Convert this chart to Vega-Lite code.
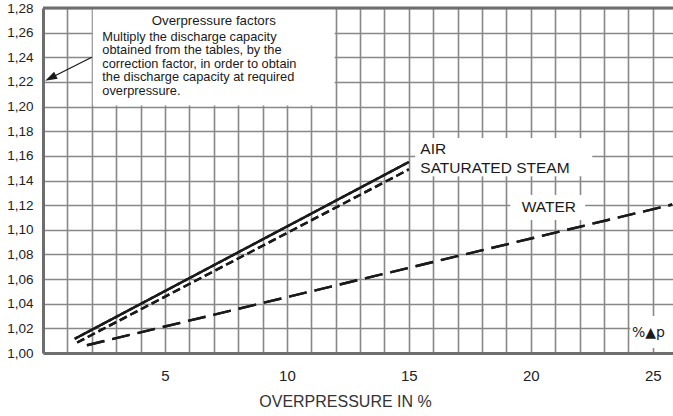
{
  "$schema": "https://vega.github.io/schema/vega-lite/v6.json",
  "width": 630,
  "height": 345,
  "autosize": {"type": "none"},
  "padding": {"left": 43, "top": 8, "right": 0, "bottom": 63},
  "background": "white",
  "config": {"view": {"stroke": null}, "font": "Liberation Sans"},
  "datasets": {
    "lines": [
      {"medium": "AIR", "overpressure": 1.3, "factor": 1.0115},
      {"medium": "AIR", "overpressure": 15, "factor": 1.155},
      {"medium": "SATURATED STEAM", "overpressure": 1.4, "factor": 1.0085},
      {"medium": "SATURATED STEAM", "overpressure": 15, "factor": 1.149},
      {"medium": "WATER", "overpressure": 1.8, "factor": 1.0063},
      {"medium": "WATER", "overpressure": 25.8, "factor": 1.1205}
    ],
    "one": [{}]
  },
  "layer": [
    {
      "data": {"name": "lines"},
      "mark": {"type": "line", "color": "#1a1a1a", "strokeWidth": 2.4},
      "encoding": {
        "x": {
          "field": "overpressure",
          "type": "quantitative",
          "scale": {"domain": [0, 25.83], "nice": false, "zero": false},
          "axis": {
            "values": [1,2,3,4,5,6,7,8,9,10,11,12,13,14,15,16,17,18,19,20,21,22,23,24,25],
            "tickCount": 100,
            "labelExpr": "datum.value % 5 === 0 ? format(datum.value, 'd') : ''",
            "labelOverlap": false,
            "labelFlush": false,
            "labelBound": false,
            "grid": true,
            "gridColor": "#888888",
            "gridWidth": 1.6,
            "domainColor": "#6e6e6e",
            "domainWidth": 3,
            "ticks": false,
            "tickSize": 0,
            "labelPadding": 15,
            "labelFontSize": 15,
            "labelColor": "#222222",
            "title": "OVERPRESSURE IN %",
            "titleFontSize": 16,
            "titleFontWeight": "normal",
            "titleColor": "#333333",
            "titlePadding": 10,
            "titleX": 302
          }
        },
        "y": {
          "field": "factor",
          "type": "quantitative",
          "scale": {"domain": [1.0, 1.28], "nice": false, "zero": false},
          "axis": {
            "values": [1.0,1.02,1.04,1.06,1.08,1.1,1.12,1.14,1.16,1.18,1.2,1.22,1.24,1.26,1.28],
            "tickCount": 100,
            "labelExpr": "replace(format(datum.value, '.2f'), '.', ',')",
            "labelOverlap": false,
            "grid": true,
            "gridColor": "#888888",
            "gridWidth": 1.6,
            "domainColor": "#6e6e6e",
            "domainWidth": 3,
            "ticks": false,
            "tickSize": 0,
            "labelPadding": 10,
            "labelFontSize": 13.5,
            "labelColor": "#222222",
            "title": null
          }
        },
        "strokeDash": {
          "field": "medium",
          "type": "nominal",
          "scale": {"domain": ["AIR", "SATURATED STEAM", "WATER"], "range": [[1, 0], [8, 4], [18, 8]]},
          "legend": null
        }
      }
    },
    {
      "data": {"name": "one"},
      "mark": {"type": "rect", "color": "white", "xOffset": 1, "x2Offset": -1, "yOffset": -1},
      "encoding": {"x": {"datum": 2}, "x2": {"datum": 12}, "y": {"datum": 1.2}, "y2": {"datum": 1.28}}
    },
    {
      "data": {"name": "one"},
      "mark": {"type": "rect", "color": "white"},
      "encoding": {"x": {"datum": 15.26}, "x2": {"datum": 22.52}, "y": {"datum": 1.1435}, "y2": {"datum": 1.1745}}
    },
    {
      "data": {"name": "one"},
      "mark": {"type": "rect", "color": "white"},
      "encoding": {"x": {"datum": 19.16}, "x2": {"datum": 22.23}, "y": {"datum": 1.1079}, "y2": {"datum": 1.1282}}
    },
    {
      "data": {"name": "one"},
      "mark": {"type": "rect", "color": "white"},
      "encoding": {"x": {"datum": 24.08}, "x2": {"datum": 25.83}, "y": {"datum": 1.004}, "y2": {"datum": 1.03}}
    },
    {
      "data": {"name": "lines"},
      "mark": {"type": "line", "color": "#1a1a1a", "strokeWidth": 2.4},
      "encoding": {
        "x": {"field": "overpressure", "type": "quantitative"},
        "y": {"field": "factor", "type": "quantitative"},
        "strokeDash": {"field": "medium", "type": "nominal", "legend": null}
      }
    },
    {
      "data": {"name": "one"},
      "mark": {"type": "text", "text": "Overpressure factors", "align": "center", "baseline": "middle", "fontSize": 13.3, "color": "#1a1a1a"},
      "encoding": {"x": {"datum": 7}, "y": {"datum": 1.2694}}
    },
    {
      "data": {"name": "one"},
      "mark": {
        "type": "text",
        "text": ["Multiply the discharge capacity", "obtained from the tables, by the", "correction factor, in order to obtain", "the discharge capacity at required", "overpressure."],
        "align": "left",
        "baseline": "middle",
        "lineHeight": 13.5,
        "fontSize": 12.8,
        "color": "#1a1a1a"
      },
      "encoding": {"x": {"datum": 2.43}, "y": {"datum": 1.2565}}
    },
    {
      "data": {"name": "one"},
      "mark": {"type": "text", "text": "AIR", "align": "left", "baseline": "middle", "fontSize": 15.5, "color": "#1a1a1a"},
      "encoding": {"x": {"datum": 15.47}, "y": {"datum": 1.1656}}
    },
    {
      "data": {"name": "one"},
      "mark": {"type": "text", "text": "SATURATED STEAM", "align": "left", "baseline": "middle", "fontSize": 15.5, "color": "#1a1a1a"},
      "encoding": {"x": {"datum": 15.47}, "y": {"datum": 1.1501}}
    },
    {
      "data": {"name": "one"},
      "mark": {"type": "text", "text": "WATER", "align": "center", "baseline": "middle", "fontSize": 15.5, "color": "#1a1a1a"},
      "encoding": {"x": {"datum": 20.74}, "y": {"datum": 1.1185}}
    },
    {
      "data": {"name": "one"},
      "mark": {"type": "text", "text": "%▲p", "align": "left", "baseline": "middle", "fontSize": 14, "font": "DejaVu Sans", "color": "#1a1a1a"},
      "encoding": {"x": {"datum": 24.15}, "y": {"datum": 1.0165}}
    },
    {
      "data": {"name": "one"},
      "mark": {"type": "rule", "color": "#1a1a1a", "strokeWidth": 1.3},
      "encoding": {"x": {"datum": 2}, "x2": {"datum": 0.31}, "y": {"datum": 1.24}, "y2": {"datum": 1.2232}}
    },
    {
      "data": {"name": "one"},
      "mark": {"type": "point", "shape": "M1,0 L-1,-0.65 L-1,0.65 Z", "filled": true, "color": "#1a1a1a", "size": 144, "angle": 153, "opacity": 1},
      "encoding": {"x": {"datum": 0.31}, "y": {"datum": 1.2232}}
    },
    {
      "data": {"name": "one"},
      "mark": {"type": "rule", "color": "#6e6e6e", "strokeWidth": 3},
      "encoding": {"y": {"datum": 1.28}}
    }
  ]
}
